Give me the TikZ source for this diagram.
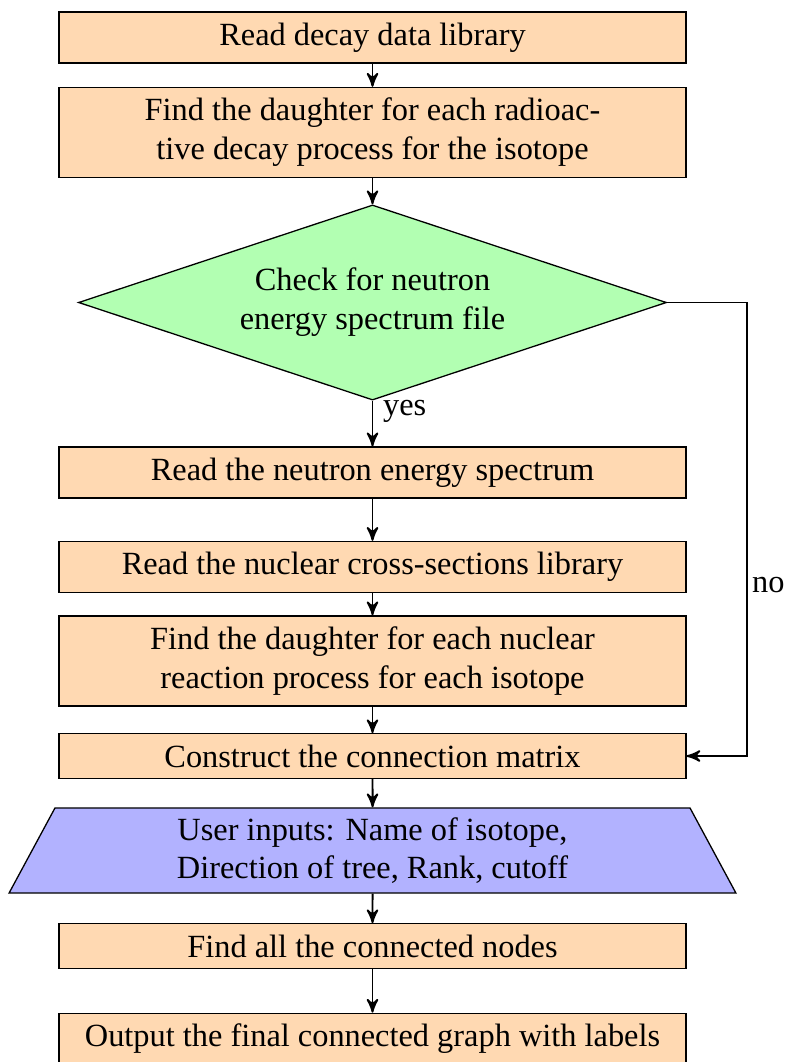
\documentclass[tikz,border=0pt]{standalone}
\usepackage{fontspec}
\setmainfont{Liberation Serif}
\usetikzlibrary{shapes.geometric,arrows}

\tikzset{
  process/.style={rectangle, draw, fill=orange!30, minimum width=193.7pt,
    align=center},
  decision/.style={diamond, draw, fill=green!30, aspect=3, inner sep=0pt,
    minimum width=181.7pt, minimum height=60.3pt, align=center},
  userio/.style={trapezium, draw, fill=blue!30, trapezium left angle=60,
    trapezium right angle=60, trapezium stretches body=true, inner ysep=2pt,
    minimum width=224.6pt, minimum height=26.3pt, align=center},
  flow/.style={->, >=stealth', semithick},
  lbl/.style={inner sep=2pt}
}

\begin{document}
\begin{tikzpicture}[x=0.309pt, y=-0.309pt]
  \useasboundingbox (0,0) rectangle (793,1062);

  \node[process] (lib)    at (372.5,37.5) {Read decay data library};
  \node[process] (decay)  at (372.5,132.5) {Find the daughter for each radioac-\\tive decay process for the isotope};
  \node[decision] (check) at (372.5,302.5) {Check for neutron\\energy spectrum file};
  \node[process] (spec)   at (372.5,472.5) {Read the neutron energy spectrum};
  \node[process] (xs)     at (372.5,567) {Read the nuclear cross-sections library};
  \node[process] (react)  at (372.5,661) {Find the daughter for each nuclear\\reaction process for each isotope};
  \node[process] (matrix) at (372.5,756) {Construct the connection matrix};
  \node[userio] (input)   at (372.5,850.5) {User inputs: Name of isotope,\\Direction of tree, Rank, cutoff};
  \node[process] (nodes)  at (372.5,946) {Find all the connected nodes};
  \node[process] (out)    at (372.5,1039) {Output the final connected graph with labels};

  \draw[flow] (lib) -- (decay);
  \draw[flow] (decay) -- (check);
  \draw[flow] (check) -- (spec);
  \draw[flow] (spec) -- (xs);
  \draw[flow] (xs) -- (react);
  \draw[flow] (react) -- (matrix);
  \draw[flow] (matrix) -- (input);
  \draw[flow] (input) -- (nodes);
  \draw[flow] (nodes) -- (out);

  \node[lbl, anchor=west] (yes) at (376,411) {yes};

  \coordinate (turn) at (747,756);
  \draw[flow] (check.east) -| (turn) -- (matrix.east);
  \node[lbl, anchor=west] (no) at (745,585) {no};
\end{tikzpicture}
\end{document}
